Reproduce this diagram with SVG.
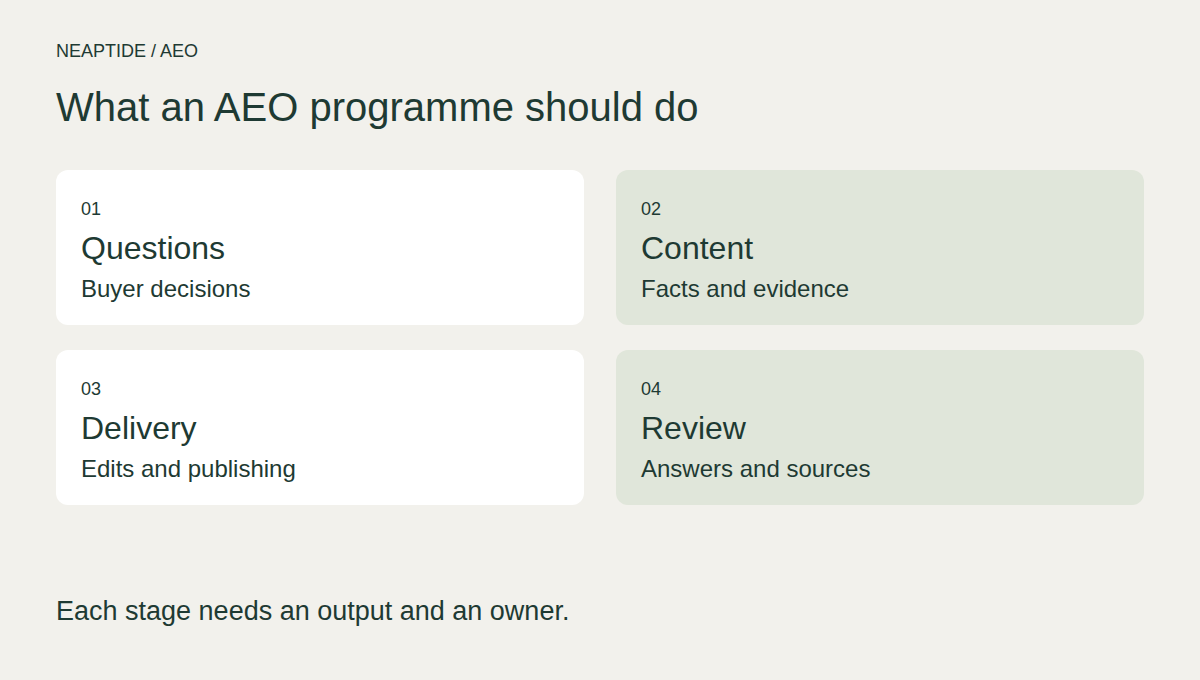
<svg xmlns="http://www.w3.org/2000/svg" width="1200" height="680" viewBox="0 0 1200 680">
<style>
text{font-family:"Liberation Sans",Arial,sans-serif;fill:#1e3a33}
.eyebrow{font-size:18px}
.title{font-size:40px}
.num{font-size:18px}
.head{font-size:32px}
.sub{font-size:24px}
.foot{font-size:27px}
.white{fill:#ffffff}
.green{fill:#e0e6da}
</style>
<rect width="1200" height="680" fill="#f2f1ec"/>
<text class="eyebrow" x="56" y="57">NEAPTIDE / AEO</text>
<text class="title" x="56" y="121">What an AEO programme should do</text>
<g id="node-01">
<rect class="white" x="56" y="170" width="528" height="155" rx="12"/>
<text class="num" x="81" y="215">01</text>
<text class="head" x="81" y="259">Questions</text>
<text class="sub" x="81" y="297">Buyer decisions</text>
</g>
<g id="node-02">
<rect class="green" x="616" y="170" width="528" height="155" rx="12"/>
<text class="num" x="641" y="215">02</text>
<text class="head" x="641" y="259">Content</text>
<text class="sub" x="641" y="297">Facts and evidence</text>
</g>
<g id="node-03">
<rect class="white" x="56" y="350" width="528" height="155" rx="12"/>
<text class="num" x="81" y="395">03</text>
<text class="head" x="81" y="439">Delivery</text>
<text class="sub" x="81" y="477">Edits and publishing</text>
</g>
<g id="node-04">
<rect class="green" x="616" y="350" width="528" height="155" rx="12"/>
<text class="num" x="641" y="395">04</text>
<text class="head" x="641" y="439">Review</text>
<text class="sub" x="641" y="477">Answers and sources</text>
</g>
<g id="connectors"></g>
<text class="foot" x="56" y="620">Each stage needs an output and an owner.</text>
</svg>
